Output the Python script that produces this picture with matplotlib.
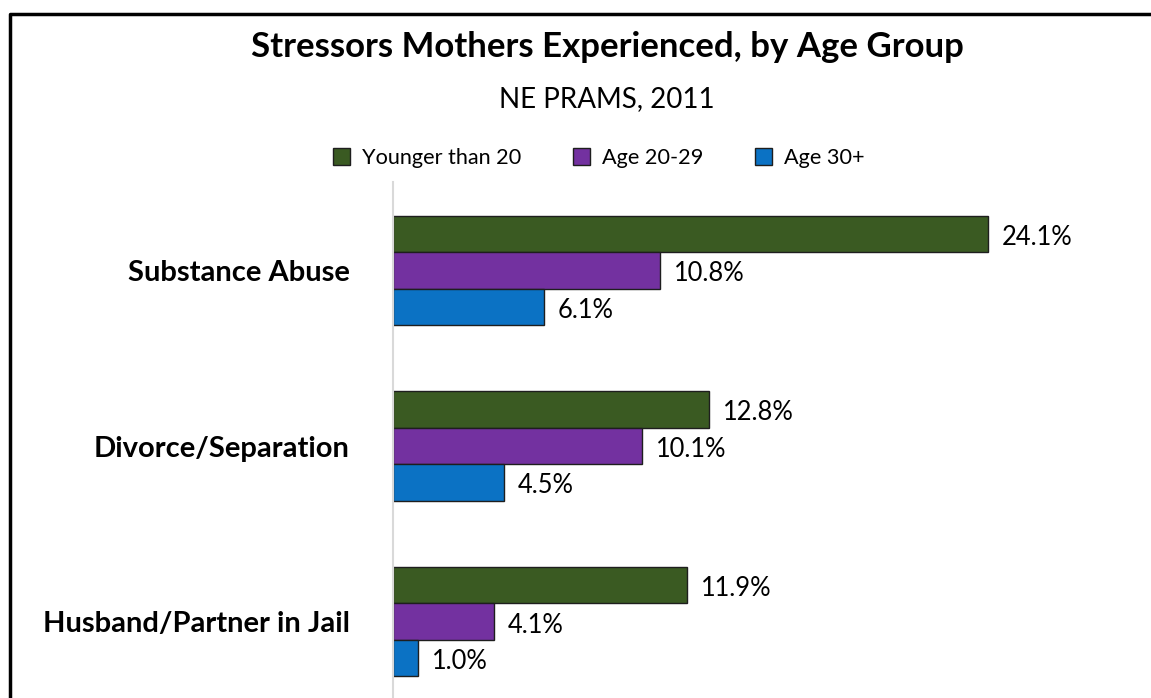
import numpy as np
import matplotlib
matplotlib.use('Agg')
import matplotlib.pyplot as plt
from matplotlib.lines import Line2D

# ---------- data ----------
categories = ["Substance Abuse", "Divorce/Separation", "Husband/Partner in Jail"]
series_names = ["Younger than 20", "Age 20-29", "Age 30+"]
younger_20 = [24.1, 12.8, 11.9]
age_20_29 = [10.8, 10.1, 4.1]
age_30_plus = [6.1, 4.5, 1.0]
colors = ["#3a5a22", "#7331a0", "#0b72c4"]

plt.rcParams['font.family'] = ['Lato', 'DejaVu Sans']

W, H = 1151, 698
fig = plt.figure(figsize=(W / 100, H / 100), dpi=100)
fig.patch.set_facecolor('white')

# axes placed in pixel terms
left, right, top, bottom = 393, 1134, 182, 710
ax = fig.add_axes([left / W, 1 - bottom / H, (right - left) / W, (bottom - top) / H])

y = np.arange(len(categories))
h = 0.208
for i, (vals, name) in enumerate(zip([younger_20, age_20_29, age_30_plus], series_names)):
    b = ax.barh(y + (i - 1) * h, vals, height=h, color=colors[i], edgecolor='#1e1e1e',
                linewidth=1.0, label=name)
    labels = ax.bar_label(b, labels=[f"{v:.1f}%" for v in vals], padding=10,
                          fontsize=18.4, color='black')
    # labels sit a touch below the bar centre in the original
    for t in labels:
        t.xyann = (t.xyann[0], -2.5)

ax.set_xlim(0, 30)
ax.set_ylim(2.504, -0.504)
ax.set_yticks(y)
ax.set_yticklabels(categories, fontsize=21, fontweight='bold')
ax.tick_params(axis='y', length=0, pad=31)
ax.set_xticks([])
for s in ['top', 'right', 'bottom']:
    ax.spines[s].set_visible(False)
ax.spines['left'].set_color('#d9d9d9')
ax.spines['left'].set_linewidth(1.5)

fig.text(607 / W, 1 - 47 / H, "Stressors Mothers Experienced, by Age Group",
         ha='center', va='center', fontsize=25, fontweight='bold')
fig.text(607 / W, 1 - 99 / H, "NE PRAMS, 2011", ha='center', va='center', fontsize=20)

fig.legend(loc='center left', bbox_to_anchor=(333 / W, 1 - 158 / H), ncol=3, frameon=False,
           fontsize=15.6, handlelength=0.78, handleheight=0.78, handletextpad=0.55,
           columnspacing=2.4, borderaxespad=0, borderpad=0)

# frame around the chart area (only top and left visible in the crop)
fig.add_artist(Line2D([10 / W, 10 / W, 1.0], [0.0, 1 - 14 / H, 1 - 14 / H],
                      transform=fig.transFigure, color='black', linewidth=2.5))

plt.savefig("out.png", dpi=100)
